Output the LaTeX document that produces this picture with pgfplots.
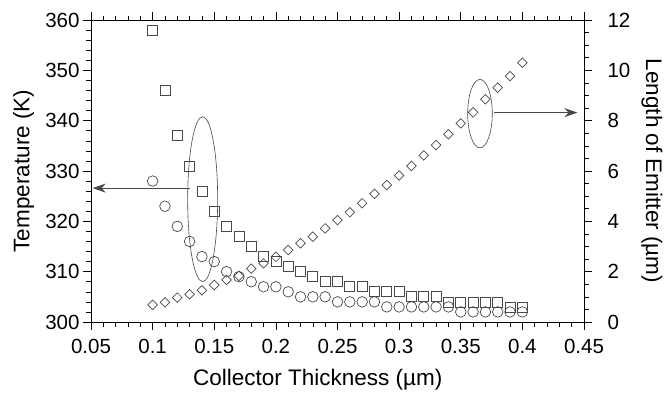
\documentclass[border=0pt]{standalone}
\usepackage{fontspec}
\setmainfont{Liberation Sans}
\usepackage{pgfplots}
\usepackage{pgfplotstable}
\pgfplotsset{compat=1.18}
\usetikzlibrary{arrows.meta}

\pgfplotstableread{
x    sq   ci   di
0.10 358  328  0.68
0.11 346  323  0.78
0.12 337  319  0.97
0.13 331  316  1.10
0.14 326  313  1.26
0.15 322  312  1.47
0.16 319  310  1.67
0.17 317  309  1.83
0.18 315  308  2.12
0.19 313  307  2.33
0.20 312  307  2.59
0.21 311  306  2.86
0.22 310  305  3.13
0.23 309  305  3.39
0.24 308  305  3.72
0.25 308  304  4.05
0.26 307  304  4.36
0.27 307  304  4.72
0.28 306  304  5.09
0.29 306  303  5.44
0.30 306  303  5.82
0.31 305  303  6.20
0.32 305  303  6.62
0.33 305  303  7.03
0.34 304  303  7.46
0.35 304  302  7.89
0.36 304  302  8.33
0.37 304  302  8.85
0.38 304  302  9.31
0.39 303  302  9.77
0.40 303  302  10.30
}\data

\definecolor{mk}{HTML}{484848}

\begin{document}
\begin{tikzpicture}
\pgfplotsset{
  every axis/.append style={
    at={(0,0)}, anchor=south west, scale only axis,
    width=493pt, height=302pt,
    xmin=0.05, xmax=0.45,
    tick align=outside,
    major tick length=8pt, minor tick length=4.5pt,
    every tick/.style={black, line width=0.6pt},
    axis line style={line width=0.7pt},
    /pgf/number format/assume math mode=true,
    ticklabel style={font=\fontsize{20.5}{25}\selectfont},
    label style={font=\fontsize{22.5}{27}\selectfont},
  }
}
\begin{axis}[
  ymin=300, ymax=360,
  xtick={0.05,0.1,0.15,0.2,0.25,0.3,0.35,0.4,0.45},
  xticklabels={0.05,0.1,0.15,0.2,0.25,0.3,0.35,0.4,0.45},
  ytick={300,310,320,330,340,350,360},
  yticklabels={300,310,320,330,340,350,360},
  minor x tick num=4, minor y tick num=4,
  ytick pos=left,
  xticklabel style={yshift=-6pt},
  xlabel={Collector Thickness (µm)},
  ylabel={Temperature (K)},
  xlabel style={at={(axis description cs:0.46,-0.192)}, anchor=center},
  ylabel style={at={(axis description cs:-0.137,0.5)}, anchor=center},
]
\addplot[only marks, mark=square, mark size=5pt, mark options={draw=mk, line width=0.7pt}] table[x=x,y=sq] {\data};
\addplot[only marks, mark=o, mark size=5.3pt, mark options={draw=mk, line width=0.7pt}] table[x=x,y=ci] {\data};
\draw[mk, line width=0.6pt] (axis cs:0.1406,324.4) ellipse [x radius=15pt, y radius=82.5pt];
\draw[mk, line width=0.6pt] (axis cs:0.3656,341.4) ellipse [x radius=12.3pt, y radius=34.2pt];
\draw[mk, line width=0.7pt, -{Stealth[length=13pt,width=9pt]}] (axis cs:0.1303,326.6) -- (axis cs:0.0514,326.6);
\draw[mk, line width=0.7pt, -{Stealth[length=13pt,width=9pt]}] (axis cs:0.3772,341.6) -- (axis cs:0.4446,341.6);
\end{axis}
\begin{axis}[
  ymin=0, ymax=12,
  axis x line=none, axis y line*=right,
  ytick={0,2,4,6,8,10,12},
  yticklabels={0,2,4,6,8,10,12},
  minor y tick num=3,
  yticklabel style={xshift=12pt},
  ylabel={Length of Emitter (µm)},
  ylabel style={at={(axis description cs:1.138,0.5)}, anchor=center, rotate=180},
]
\addplot[only marks, mark=square, mark size=3.4pt, mark options={draw=mk, line width=0.7pt, rotate=45}] table[x=x,y=di] {\data};
\end{axis}
\pgfresetboundingbox
\path (-91pt,-77pt) rectangle (574pt,322pt);
\end{tikzpicture}
\end{document}
